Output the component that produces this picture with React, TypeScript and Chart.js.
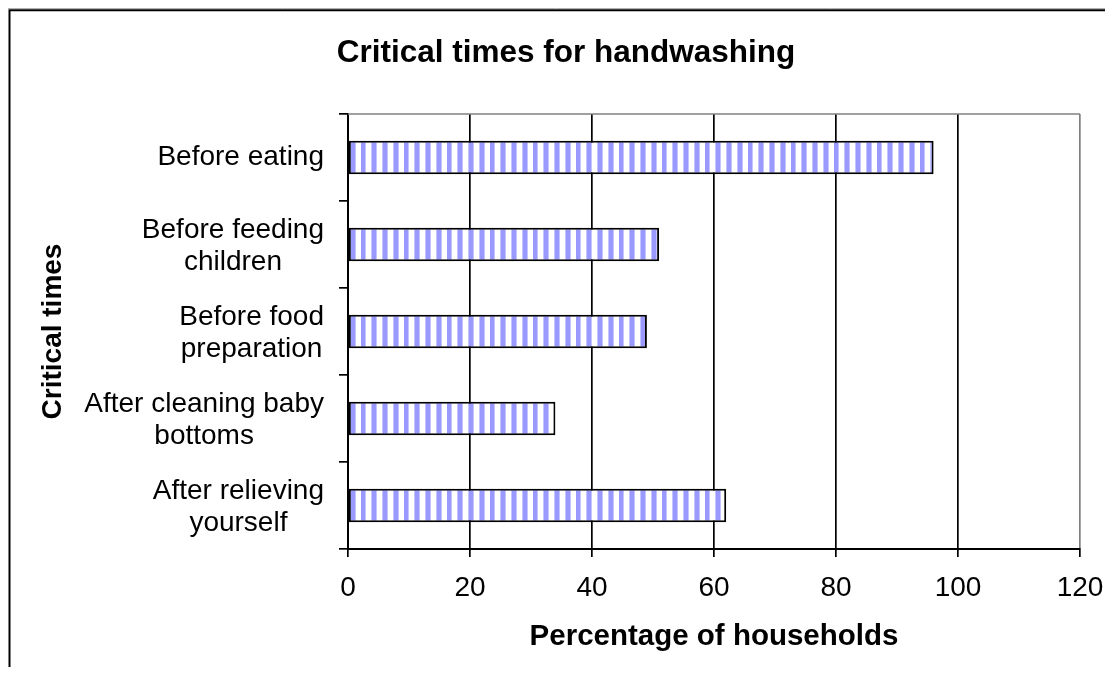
import React, { useEffect, useRef } from "react";
import { Chart, registerables } from "chart.js";

Chart.register(...registerables);

const chartTitle = "Critical times for handwashing";
const categories: string[][] = [
  ["Before eating"],
  ["Before feeding", "children"],
  ["Before food", "preparation"],
  ["After cleaning baby", "bottoms"],
  ["After relieving", "yourself"],
];
const values: number[] = [96, 51, 49, 34, 62];
const xMin = 0;
const xMax = 120;
const xStep = 20;
const xTitle = "Percentage of households";
const yTitle = "Critical times";

const FONT = '"Liberation Sans", Arial, Helvetica, sans-serif';
const W = 1097;
const H = 659;

function makePattern(): CanvasPattern | string {
  const c = document.createElement("canvas");
  c.width = 43;
  c.height = 1;
  const ctx = c.getContext("2d");
  if (!ctx) return "#9999ff";
  const centers = [0.7, 11.45, 22.2, 32.95];
  for (let x = 0; x < 43; x++) {
    const px = x + 0.5;
    let d = 99;
    for (const cc of centers) {
      for (const off of [-43, 0, 43]) d = Math.min(d, Math.abs(px - (cc + off)));
    }
    ctx.fillStyle = d < 2 ? "#9999ff" : d < 2.9 ? "#c4c4ff" : "#ffffff";
    ctx.fillRect(x, 0, 1, 1);
  }
  return ctx.createPattern(c, "repeat") || "#9999ff";
}

const decorPlugin = {
  id: "decor",
  afterDraw(chart: any) {
    const { ctx, chartArea, scales } = chart;
    ctx.save();
    // plot area top border (gray)
    ctx.strokeStyle = "#808080";
    ctx.lineWidth = 1.5;
    ctx.beginPath();
    ctx.moveTo(chartArea.left, chartArea.top);
    ctx.lineTo(chartArea.right, chartArea.top);
    ctx.stroke();
    // outer chart frame (top & left visible)
    ctx.strokeStyle = "#b0b0b0";
    ctx.lineWidth = 1;
    ctx.beginPath();
    ctx.moveTo(0, 0.5);
    ctx.lineTo(W, 0.5);
    ctx.stroke();
    ctx.strokeStyle = "#000000";
    ctx.lineWidth = 2;
    ctx.beginPath();
    ctx.moveTo(1.5, H);
    ctx.lineTo(1.5, 2.2);
    ctx.lineTo(W, 2.2);
    ctx.stroke();
    // main title
    ctx.fillStyle = "#000000";
    ctx.font = `bold 31.5px ${FONT}`;
    ctx.textAlign = "center";
    ctx.textBaseline = "middle";
    ctx.fillText(chartTitle, 558, 45);
    // category labels: each block right-aligned, lines centered within block
    const yScale = scales.y;
    ctx.font = `28px ${FONT}`;
    const rightEdge = 316;
    const lh = 31.7;
    categories.forEach((lines, i) => {
      const cy = yScale.getPixelForValue(i);
      const maxW = Math.max(...lines.map((l) => ctx.measureText(l).width));
      const cx = rightEdge - maxW / 2;
      lines.forEach((line, j) => {
        const y = cy + (j - (lines.length - 1) / 2) * lh + (lines.length > 1 ? 1.5 : 0);
        ctx.fillText(line, cx, y);
      });
    });
    ctx.restore();
  },
};

export default function App() {
  const ref = useRef<HTMLCanvasElement | null>(null);
  useEffect(() => {
    if (!ref.current) return;
    const pattern = makePattern();
    const chart = new Chart(ref.current, {
      type: "bar",
      data: {
        labels: categories.map((l) => l.join(" ")),
        datasets: [
          {
            data: values,
            backgroundColor: pattern as any,
            borderColor: "#000000",
            borderWidth: 2,
            borderSkipped: false,
            barPercentage: 0.385,
            categoryPercentage: 1,
          },
        ],
      },
      options: {
        indexAxis: "y",
        animation: false,
        responsive: false,
        maintainAspectRatio: false,
        events: [],
        layout: { padding: { left: 0, right: 25, top: 106, bottom: 0 } },
        plugins: {
          legend: { display: false },
          tooltip: { enabled: false },
          title: { display: false },
        },
        scales: {
          x: {
            type: "linear",
            min: xMin,
            max: xMax,
            afterFit: (s: any) => {
              s.height = 118;
              s.paddingLeft = 0;
              s.paddingRight = 0;
            },
            ticks: {
              stepSize: xStep,
              color: "#000000",
              font: { family: FONT, size: 28 },
              padding: 14,
              maxRotation: 0,
            },
            grid: {
              color: (c: any) => (c.tick && c.tick.value === xMax ? "#808080" : "#000000"),
              tickColor: "#000000",
              lineWidth: 1.7,
              tickLength: 8,
              drawOnChartArea: true,
              drawTicks: true,
            },
            border: { display: true, color: "#000000", width: 2 },
            title: {
              display: true,
              text: xTitle,
              color: "#000000",
              font: { family: FONT, size: 29.5, weight: "bold" },
              padding: { top: 4, bottom: 12 },
            },
          },
          y: {
            type: "category",
            offset: true,
            afterFit: (s: any) => {
              s.width = 340;
              s.paddingTop = 0;
              s.paddingBottom = 0;
            },
            ticks: { display: false },
            grid: {
              offset: true,
              drawOnChartArea: false,
              drawTicks: true,
              tickLength: 9,
              color: "#000000",
              lineWidth: 1.7,
            },
            border: { display: true, color: "#000000", width: 2 },
            title: {
              display: true,
              text: yTitle,
              color: "#000000",
              font: { family: FONT, size: 28, weight: "bold" },
              padding: { top: 28, bottom: 0 },
            },
          },
        },
      },
      plugins: [decorPlugin],
    });
    return () => chart.destroy();
  }, []);
  return (
    <div style={{ width: W, height: H, background: "#ffffff" }}>
      <canvas ref={ref} width={W} height={H} style={{ display: "block" }} />
    </div>
  );
}
